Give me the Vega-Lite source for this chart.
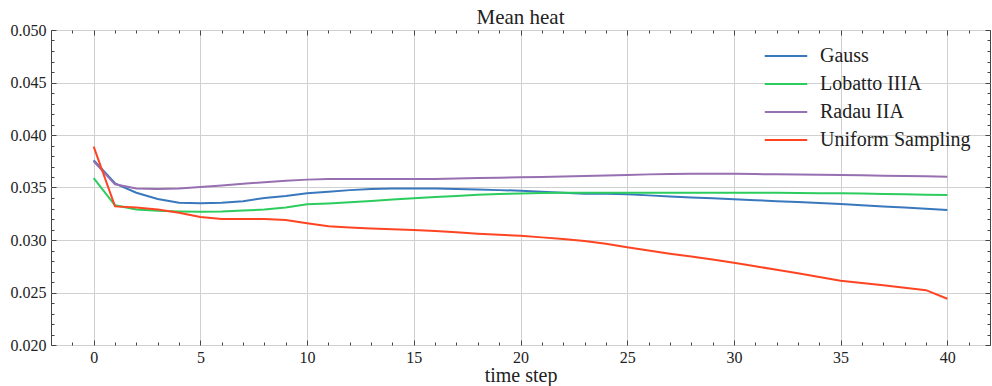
{
  "$schema": "https://vega.github.io/schema/vega-lite/v6.json",
  "width": 939,
  "height": 315,
  "autosize": {"type": "none"},
  "padding": {"left": 51, "top": 30, "right": 2, "bottom": 41},
  "background": "white",
  "config": {
    "font": "Liberation Serif, DejaVu Serif, serif",
    "view": {"stroke": "#444444", "strokeWidth": 1},
    "style": {"guide-label": {"font": "Liberation Serif, DejaVu Serif, serif"}, "guide-title": {"font": "Liberation Serif, DejaVu Serif, serif"}},
    "axis": {"labelFont": "Liberation Serif, DejaVu Serif, serif", "titleFont": "Liberation Serif, DejaVu Serif, serif", "labelColor": "#222222", "titleColor": "#222222", "tickColor": "#444444", "domain": false, "gridColor": "#d0d0d0", "gridWidth": 1}
  },
  "title": {"text": "Mean heat", "font": "Liberation Serif, DejaVu Serif, serif", "fontSize": 21, "fontWeight": "normal", "color": "#222222", "offset": -6, "anchor": "middle"},
  "data": {"values": [
    {"t":0,"s":"Gauss","v":0.0376},{"t":1,"s":"Gauss","v":0.0354},{"t":2,"s":"Gauss","v":0.0345},{"t":3,"s":"Gauss","v":0.0339},{"t":4,"s":"Gauss","v":0.03355},{"t":5,"s":"Gauss","v":0.0335},{"t":6,"s":"Gauss","v":0.03355},{"t":7,"s":"Gauss","v":0.0337},{"t":8,"s":"Gauss","v":0.034},{"t":9,"s":"Gauss","v":0.0342},{"t":10,"s":"Gauss","v":0.03445},{"t":11,"s":"Gauss","v":0.0346},{"t":12,"s":"Gauss","v":0.03475},{"t":13,"s":"Gauss","v":0.03485},{"t":14,"s":"Gauss","v":0.0349},{"t":15,"s":"Gauss","v":0.0349},{"t":16,"s":"Gauss","v":0.0349},{"t":17,"s":"Gauss","v":0.03485},{"t":18,"s":"Gauss","v":0.0348},{"t":19,"s":"Gauss","v":0.03475},{"t":20,"s":"Gauss","v":0.0347},{"t":21,"s":"Gauss","v":0.0346},{"t":22,"s":"Gauss","v":0.0345},{"t":23,"s":"Gauss","v":0.0344},{"t":24,"s":"Gauss","v":0.0344},{"t":25,"s":"Gauss","v":0.03435},{"t":26,"s":"Gauss","v":0.03425},{"t":27,"s":"Gauss","v":0.03415},{"t":28,"s":"Gauss","v":0.03405},{"t":29,"s":"Gauss","v":0.03397},{"t":30,"s":"Gauss","v":0.03388},{"t":31,"s":"Gauss","v":0.03379},{"t":32,"s":"Gauss","v":0.0337},{"t":33,"s":"Gauss","v":0.03361},{"t":34,"s":"Gauss","v":0.03352},{"t":35,"s":"Gauss","v":0.03343},{"t":36,"s":"Gauss","v":0.03332},{"t":37,"s":"Gauss","v":0.0332},{"t":38,"s":"Gauss","v":0.03309},{"t":39,"s":"Gauss","v":0.03298},{"t":40,"s":"Gauss","v":0.03286},
    {"t":0,"s":"Lobatto IIIA","v":0.0359},{"t":1,"s":"Lobatto IIIA","v":0.0333},{"t":2,"s":"Lobatto IIIA","v":0.0329},{"t":3,"s":"Lobatto IIIA","v":0.03278},{"t":4,"s":"Lobatto IIIA","v":0.03272},{"t":5,"s":"Lobatto IIIA","v":0.0327},{"t":6,"s":"Lobatto IIIA","v":0.03272},{"t":7,"s":"Lobatto IIIA","v":0.0328},{"t":8,"s":"Lobatto IIIA","v":0.0329},{"t":9,"s":"Lobatto IIIA","v":0.0331},{"t":10,"s":"Lobatto IIIA","v":0.0334},{"t":11,"s":"Lobatto IIIA","v":0.03348},{"t":12,"s":"Lobatto IIIA","v":0.0336},{"t":13,"s":"Lobatto IIIA","v":0.03372},{"t":14,"s":"Lobatto IIIA","v":0.03385},{"t":15,"s":"Lobatto IIIA","v":0.03397},{"t":16,"s":"Lobatto IIIA","v":0.0341},{"t":17,"s":"Lobatto IIIA","v":0.0342},{"t":18,"s":"Lobatto IIIA","v":0.0343},{"t":19,"s":"Lobatto IIIA","v":0.03437},{"t":20,"s":"Lobatto IIIA","v":0.03444},{"t":21,"s":"Lobatto IIIA","v":0.03448},{"t":22,"s":"Lobatto IIIA","v":0.0345},{"t":23,"s":"Lobatto IIIA","v":0.0345},{"t":24,"s":"Lobatto IIIA","v":0.0345},{"t":25,"s":"Lobatto IIIA","v":0.0345},{"t":26,"s":"Lobatto IIIA","v":0.0345},{"t":27,"s":"Lobatto IIIA","v":0.0345},{"t":28,"s":"Lobatto IIIA","v":0.0345},{"t":29,"s":"Lobatto IIIA","v":0.0345},{"t":30,"s":"Lobatto IIIA","v":0.0345},{"t":31,"s":"Lobatto IIIA","v":0.0345},{"t":32,"s":"Lobatto IIIA","v":0.03449},{"t":33,"s":"Lobatto IIIA","v":0.03447},{"t":34,"s":"Lobatto IIIA","v":0.03446},{"t":35,"s":"Lobatto IIIA","v":0.03445},{"t":36,"s":"Lobatto IIIA","v":0.03442},{"t":37,"s":"Lobatto IIIA","v":0.03439},{"t":38,"s":"Lobatto IIIA","v":0.03436},{"t":39,"s":"Lobatto IIIA","v":0.03432},{"t":40,"s":"Lobatto IIIA","v":0.03429},
    {"t":0,"s":"Radau IIA","v":0.0375},{"t":1,"s":"Radau IIA","v":0.0353},{"t":2,"s":"Radau IIA","v":0.0349},{"t":3,"s":"Radau IIA","v":0.03485},{"t":4,"s":"Radau IIA","v":0.0349},{"t":5,"s":"Radau IIA","v":0.03505},{"t":6,"s":"Radau IIA","v":0.0352},{"t":7,"s":"Radau IIA","v":0.03535},{"t":8,"s":"Radau IIA","v":0.0355},{"t":9,"s":"Radau IIA","v":0.03565},{"t":10,"s":"Radau IIA","v":0.03575},{"t":11,"s":"Radau IIA","v":0.0358},{"t":12,"s":"Radau IIA","v":0.0358},{"t":13,"s":"Radau IIA","v":0.0358},{"t":14,"s":"Radau IIA","v":0.0358},{"t":15,"s":"Radau IIA","v":0.0358},{"t":16,"s":"Radau IIA","v":0.0358},{"t":17,"s":"Radau IIA","v":0.03585},{"t":18,"s":"Radau IIA","v":0.0359},{"t":19,"s":"Radau IIA","v":0.03593},{"t":20,"s":"Radau IIA","v":0.03597},{"t":21,"s":"Radau IIA","v":0.036},{"t":22,"s":"Radau IIA","v":0.03605},{"t":23,"s":"Radau IIA","v":0.0361},{"t":24,"s":"Radau IIA","v":0.03615},{"t":25,"s":"Radau IIA","v":0.0362},{"t":26,"s":"Radau IIA","v":0.03625},{"t":27,"s":"Radau IIA","v":0.03628},{"t":28,"s":"Radau IIA","v":0.0363},{"t":29,"s":"Radau IIA","v":0.0363},{"t":30,"s":"Radau IIA","v":0.0363},{"t":31,"s":"Radau IIA","v":0.03628},{"t":32,"s":"Radau IIA","v":0.03626},{"t":33,"s":"Radau IIA","v":0.03624},{"t":34,"s":"Radau IIA","v":0.03622},{"t":35,"s":"Radau IIA","v":0.0362},{"t":36,"s":"Radau IIA","v":0.03617},{"t":37,"s":"Radau IIA","v":0.03613},{"t":38,"s":"Radau IIA","v":0.0361},{"t":39,"s":"Radau IIA","v":0.03607},{"t":40,"s":"Radau IIA","v":0.03603},
    {"t":0,"s":"Uniform Sampling","v":0.0389},{"t":1,"s":"Uniform Sampling","v":0.0332},{"t":2,"s":"Uniform Sampling","v":0.0331},{"t":3,"s":"Uniform Sampling","v":0.0329},{"t":4,"s":"Uniform Sampling","v":0.0326},{"t":5,"s":"Uniform Sampling","v":0.0322},{"t":6,"s":"Uniform Sampling","v":0.032},{"t":7,"s":"Uniform Sampling","v":0.032},{"t":8,"s":"Uniform Sampling","v":0.032},{"t":9,"s":"Uniform Sampling","v":0.0319},{"t":10,"s":"Uniform Sampling","v":0.0316},{"t":11,"s":"Uniform Sampling","v":0.0313},{"t":12,"s":"Uniform Sampling","v":0.0312},{"t":13,"s":"Uniform Sampling","v":0.0311},{"t":14,"s":"Uniform Sampling","v":0.03102},{"t":15,"s":"Uniform Sampling","v":0.03095},{"t":16,"s":"Uniform Sampling","v":0.03085},{"t":17,"s":"Uniform Sampling","v":0.03073},{"t":18,"s":"Uniform Sampling","v":0.0306},{"t":19,"s":"Uniform Sampling","v":0.0305},{"t":20,"s":"Uniform Sampling","v":0.0304},{"t":21,"s":"Uniform Sampling","v":0.03025},{"t":22,"s":"Uniform Sampling","v":0.0301},{"t":23,"s":"Uniform Sampling","v":0.0299},{"t":24,"s":"Uniform Sampling","v":0.02965},{"t":25,"s":"Uniform Sampling","v":0.0293},{"t":26,"s":"Uniform Sampling","v":0.029},{"t":27,"s":"Uniform Sampling","v":0.0287},{"t":28,"s":"Uniform Sampling","v":0.02843},{"t":29,"s":"Uniform Sampling","v":0.02815},{"t":30,"s":"Uniform Sampling","v":0.02784},{"t":31,"s":"Uniform Sampling","v":0.0275},{"t":32,"s":"Uniform Sampling","v":0.02716},{"t":33,"s":"Uniform Sampling","v":0.02683},{"t":34,"s":"Uniform Sampling","v":0.02648},{"t":35,"s":"Uniform Sampling","v":0.02612},{"t":36,"s":"Uniform Sampling","v":0.0259},{"t":37,"s":"Uniform Sampling","v":0.02568},{"t":38,"s":"Uniform Sampling","v":0.02546},{"t":39,"s":"Uniform Sampling","v":0.02522},{"t":40,"s":"Uniform Sampling","v":0.0244}
  ]},
  "resolve": {"axis": {"x": "independent", "y": "independent"}},
  "layer": [
    {
      "mark": {"type": "line", "strokeWidth": 2},
      "encoding": {
        "x": {"field": "t", "type": "quantitative", "scale": {"domain": [-2, 42], "nice": false, "zero": false},
          "axis": {"orient": "bottom", "title": "time step", "titleFont": "Liberation Serif, DejaVu Serif, serif", "titleFontSize": 20, "titleFontWeight": "normal", "titlePadding": 0,
            "values": [-2,-1,0,1,2,3,4,5,6,7,8,9,10,11,12,13,14,15,16,17,18,19,20,21,22,23,24,25,26,27,28,29,30,31,32,33,34,35,36,37,38,39,40,41,42],
            "labelExpr": "datum.value % 5 === 0 ? datum.label : ''", "labelFont": {"condition": {"test": "true", "value": "Liberation Serif, DejaVu Serif, serif"}, "value": "Liberation Serif, DejaVu Serif, serif"}, "labelFontSize": 16, "labelPadding": 9, "labelFlush": false,
            "tickSize": {"condition": {"test": "datum.value % 5 === 0", "value": -5}, "value": -3},
            "gridOpacity": {"condition": {"test": "datum.value % 5 === 0", "value": 1}, "value": 0}}},
        "y": {"field": "v", "type": "quantitative", "scale": {"domain": [0.02, 0.05], "nice": false, "zero": false},
          "axis": {"orient": "left", "title": null, "format": ".3f",
            "values": [0.02,0.021,0.022,0.023,0.024,0.025,0.026,0.027,0.028,0.029,0.03,0.031,0.032,0.033,0.034,0.035,0.036,0.037,0.038,0.039,0.04,0.041,0.042,0.043,0.044,0.045,0.046,0.047,0.048,0.049,0.05],
            "labelExpr": "round(datum.value*1000) % 5 === 0 ? datum.label : ''", "labelFont": {"condition": {"test": "true", "value": "Liberation Serif, DejaVu Serif, serif"}, "value": "Liberation Serif, DejaVu Serif, serif"}, "labelFontSize": 16, "labelPadding": 10, "labelFlush": false,
            "tickSize": {"condition": {"test": "round(datum.value*1000) % 5 === 0", "value": -5}, "value": -3},
            "gridOpacity": {"condition": {"test": "round(datum.value*1000) % 5 === 0", "value": 1}, "value": 0}}},
        "color": {"field": "s", "type": "nominal",
          "scale": {"domain": ["Gauss", "Lobatto IIIA", "Radau IIA", "Uniform Sampling"], "range": ["#3978bd", "#2dcc5e", "#9670b0", "#ff4422"]},
          "legend": {"title": null, "orient": "none", "legendX": 725, "legendY": 16, "padding": 0, "symbolType": "M-2.5,0H2.5", "symbolSize": 289, "symbolStrokeWidth": 2, "symbolFillColor": "transparent", "labelFont": "Liberation Serif, DejaVu Serif, serif", "labelFontSize": 20, "labelColor": "#222222", "labelOffset": 24, "rowPadding": 8}}
      }
    },
    {
      "mark": {"type": "line", "opacity": 0},
      "encoding": {
        "x": {"field": "t", "type": "quantitative",
          "axis": {"orient": "top", "title": null, "labels": false, "grid": false,
            "values": [-2,-1,0,1,2,3,4,5,6,7,8,9,10,11,12,13,14,15,16,17,18,19,20,21,22,23,24,25,26,27,28,29,30,31,32,33,34,35,36,37,38,39,40,41,42],
            "tickSize": {"condition": {"test": "datum.value % 5 === 0", "value": -5}, "value": -3}}},
        "y": {"field": "v", "type": "quantitative",
          "axis": {"orient": "right", "title": null, "labels": false, "grid": false,
            "values": [0.02,0.021,0.022,0.023,0.024,0.025,0.026,0.027,0.028,0.029,0.03,0.031,0.032,0.033,0.034,0.035,0.036,0.037,0.038,0.039,0.04,0.041,0.042,0.043,0.044,0.045,0.046,0.047,0.048,0.049,0.05],
            "tickSize": {"condition": {"test": "round(datum.value*1000) % 5 === 0", "value": -5}, "value": -3}}}
      }
    }
  ]
}
